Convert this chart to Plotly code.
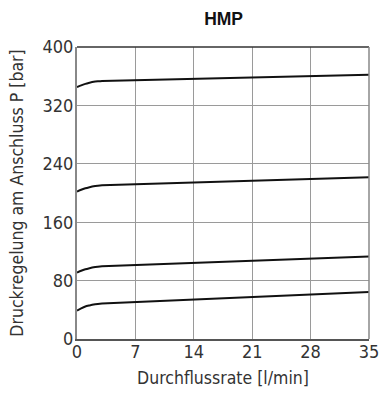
import plotly.graph_objects as go

flow = [0, 0.5, 1, 1.5, 2, 2.5, 3, 35]
p350 = [345, 347.5, 349.5, 351, 352.3, 353, 353.5, 362]
p210 = [202, 204.5, 206.5, 208, 209.3, 210, 210.5, 221.5]
p100 = [91, 93.5, 95.5, 97, 98.3, 99, 99.5, 113]
p50 = [39, 42, 44.5, 46, 47.3, 48, 48.5, 64.5]

x_ticks = [0, 7, 14, 21, 28, 35]
y_ticks = [0, 80, 160, 240, 320, 400]

fig = go.Figure()
for ys in [p350, p210, p100, p50]:
    fig.add_trace(go.Scatter(x=flow, y=ys, mode="lines", line=dict(color="#111", width=2, shape="spline", smoothing=0.6), showlegend=False, hoverinfo="skip"))

tick_font = dict(family="DejaVu Sans Condensed", size=18, color="#333", weight=300)
title_font = dict(family="DejaVu Sans Condensed", size=17.5, color="#333", weight=300)
fig.update_layout(
    width=379, height=394,
    margin=dict(l=77, r=10, t=47, b=55, autoexpand=False),
    paper_bgcolor="white", plot_bgcolor="white",
    title=dict(text="<b>HMP</b>", x=0.59, xanchor="center", y=0.9525, yanchor="middle",
               font=dict(family="Liberation Sans, Arial, sans-serif", size=17.5, color="#111")),
    xaxis=dict(range=[0, 35], tickvals=x_ticks, ticks="", showgrid=True, gridcolor="#9a9a9a", gridwidth=1,
               zeroline=False, showline=True, linecolor="#555", linewidth=1.5, mirror=False,
               tickfont=tick_font, automargin=False, ticklabeloverflow="allow", ticklabelstandoff=-4,
               title=dict(text="Durchflussrate [l/min]", standoff=10, font=title_font)),
    yaxis=dict(range=[0, 400], tickvals=y_ticks, ticks="", showgrid=True, gridcolor="#9a9a9a", gridwidth=1,
               zeroline=False, showline=True, linecolor="#888", linewidth=2,
               tickfont=tick_font, automargin=False, ticklabeloverflow="allow", ticklabelstandoff=-2,
               title=dict(text="Druckregelung am Anschluss P [bar]", standoff=14, font=title_font)),
    shapes=[
        dict(type="line", xref="paper", yref="paper", x0=0, x1=1, y0=1, y1=1, line=dict(color="#333", width=1.5)),
        dict(type="line", xref="paper", yref="paper", x0=1, x1=1, y0=0, y1=1, line=dict(color="#888", width=1.5)),
    ],
)
fig.write_html("out.html", config={"displayModeBar": False},
               post_script="document.body.style.margin='0';document.body.style.overflow='hidden';")
